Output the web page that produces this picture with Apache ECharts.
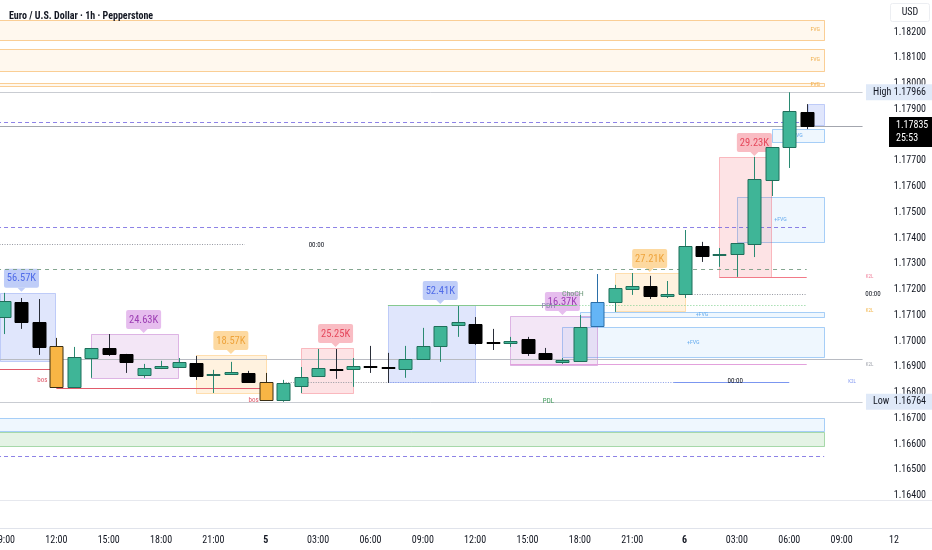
<!DOCTYPE html>
<html><head><meta charset="utf-8">
<script src="https://cdn.jsdelivr.net/npm/echarts@6/dist/echarts.min.js"></script>
<style>html,body{margin:0;padding:0;background:#fff}#c{width:932px;height:550px}</style>
</head><body><div id="c"></div>
<script>
// ---- data (hourly candles, EURUSD 1h, from 4th 09:00) ----
const opens  = [1.17093,1.17152,1.17074,1.16981,1.16822,1.16934,1.16973,1.16950,1.16868,1.16895,1.16899,1.16915,1.16868,1.16872,1.16876,1.16841,1.16772,1.16825,1.16864,1.16893,1.16891,1.16903,1.16898,1.16891,1.16930,1.16981,1.17062,1.17066,1.16996,1.16992,1.17008,1.16954,1.16919,1.16923,1.17058,1.17152,1.17202,1.17214,1.17175,1.17183,1.17369,1.17334,1.17338,1.17377,1.17625,1.17753,1.17889];
const highs  = [1.17187,1.17167,1.17163,1.17012,1.16977,1.16973,1.17027,1.16950,1.16911,1.16923,1.16934,1.16942,1.16888,1.16919,1.16884,1.16876,1.16849,1.16899,1.16969,1.16969,1.16934,1.16981,1.16954,1.16981,1.17051,1.17058,1.17136,1.17093,1.17047,1.17016,1.17016,1.16973,1.16934,1.17101,1.17260,1.17218,1.17264,1.17253,1.17233,1.17431,1.17385,1.17361,1.17381,1.17715,1.17753,1.17966,1.17920];
const lows   = [1.17027,1.17047,1.16946,1.16818,1.16818,1.16857,1.16942,1.16876,1.16857,1.16891,1.16899,1.16849,1.16798,1.16868,1.16841,1.16768,1.16764,1.16798,1.16864,1.16853,1.16822,1.16876,1.16837,1.16857,1.16930,1.16919,1.17016,1.16985,1.16965,1.16977,1.16942,1.16930,1.16911,1.16923,1.17058,1.17113,1.17179,1.17163,1.17167,1.17167,1.17307,1.17288,1.17249,1.17326,1.17563,1.17672,1.17823];
const closes = [1.17155,1.17074,1.16977,1.16822,1.16938,1.16973,1.16950,1.16919,1.16895,1.16903,1.16919,1.16864,1.16872,1.16880,1.16841,1.16772,1.16837,1.16860,1.16895,1.16890,1.16903,1.16899,1.16894,1.16930,1.16981,1.17058,1.17074,1.16992,1.16992,1.17000,1.16954,1.16930,1.16926,1.17055,1.17152,1.17206,1.17214,1.17175,1.17183,1.17369,1.17330,1.17338,1.17381,1.17629,1.17753,1.17893,1.17835];
const bosCandles = [3, 15];
const chochCandles = [34];

const tickIdx    = [0,3,6,9,12,15,18,21,24,27,30,33,36,39,42,45,48,51];
const tickLabels = ['09:00','12:00','15:00','18:00','21:00','5','03:00','06:00','09:00','12:00','15:00','18:00','21:00','6','03:00','06:00','09:00','12'];
const dayLabels  = ['5','6'];
const priceTicks = [1.164,1.165,1.166,1.167,1.168,1.169,1.170,1.171,1.172,1.173,1.174,1.175,1.176,1.177,1.178,1.179,1.180,1.181,1.182];

const lastPrice = 1.17835, countdown = '25:53', sessionHigh = 1.17966, sessionLow = 1.16764;

// session volume boxes: [fromIdx, toIdx, low, high, labelIdx, volume]
const sessions = [
  [-0.4, 2.92, 1.16922, 1.17187, 1, '56.57K'],
  [5, 10, 1.16856, 1.17027, 8, '24.63K'],
  [11, 15, 1.16798, 1.16946, 13, '18.57K'],
  [17, 20, 1.16798, 1.16973, 19, '25.25K'],
  [22, 27, 1.16841, 1.17140, 25, '52.41K'],
  [29, 34, 1.16907, 1.17097, 32, '16.37K'],
  [35, 39, 1.17117, 1.17264, 37, '27.21K'],
  [41, 44, 1.17249, 1.17715, 43, '29.23K'],
  [46.07, 47, 1.17839, 1.17920, null, '']
];
// fair value gaps: [fromIdx, toIdx, low, high, label, kind]
const fvgs = [
  [-0.4, 47, 1.18169, 1.18247, 'FVG', 'bear'],
  [-0.4, 47, 1.18049, 1.18134, 'FVG', 'bear'],
  [-0.4, 47, 1.17990, 1.18002, 'FVG', 'bear'],
  [44, 47, 1.17773, 1.17823, 'FVG', 'bull'],
  [42, 47, 1.17385, 1.17559, '+FVG', 'bull'],
  [33, 47, 1.17093, 1.17113, '+FVG', 'bull'],
  [32, 47, 1.16938, 1.17054, '+FVG', 'bull'],
  [-0.4, 47, 1.16651, 1.16701, '', 'bull'],
  [-0.4, 47, 1.16592, 1.16647, '', 'green']
];
// horizontal levels: [fromIdx, toIdx, price, kind]
const levels = [
  [-0.4, 49.2, 1.17966, 'hl'],
  [-0.4, 45.6, 1.17851, 'dashPurple'],
  [-0.4, 49.2, 1.17835, 'last'],
  [-0.4, 46, 1.17443, 'dashPurple'],
  [-0.4, 13.8, 1.17377, 'dotGrey'],
  [-0.4, 46, 1.17280, 'dashGreen'],
  [41, 46, 1.17247, 'red'],
  [39, 46, 1.17183, 'dotGrey'],
  [22, 32.8, 1.17140, 'pdh'],
  [32.8, 46, 1.17140, 'dotGreen'],
  [-0.4, 49.2, 1.16930, 'mid'],
  [29, 46, 1.16911, 'pink'],
  [-0.4, 2.9, 1.16891, 'bos'],
  [3, 14.85, 1.16818, 'bos'],
  [16, 22, 1.16839, 'dotGrey'],
  [22, 38.4, 1.16839, 'dotBlue'],
  [38.4, 45, 1.16839, 'blue'],
  [-0.4, 49.2, 1.16764, 'hl'],
  [-0.4, 47, 1.16553, 'dashPurple'],
  [-0.4, 53.3, 1.16383, 'pane']
];
// text notes: [idx, price, text, kind]
const notes = [
  [17.9, 1.17373, '00:00', 'time'],
  [41.9, 1.16844, '00:00', 'time'],
  [49.8, 1.17183, '00:00', 'time'],
  [31.2, 1.17136, 'PDH', 'pdh'],
  [32.6, 1.17183, 'ChoCH', 'choch'],
  [31.2, 1.16767, 'PDL', 'pdl'],
  [2.2, 1.16849, 'bos', 'bos'],
  [14.3, 1.16771, 'bos', 'bos'],
  [49.6, 1.17249, 'K2L', 'tPink'],
  [49.6, 1.17116, 'K2L', 'tOrange'],
  [49.6, 1.16907, 'K2L', 'tGrey'],
  [48.6, 1.16840, 'K2L', 'tBlue']
];

// ---- styles ----
const F = "'Liberation Sans Narrow','Roboto Condensed',Roboto,'Liberation Sans',sans-serif";
const sessionColors = [
  {fill:'rgba(98,129,238,0.20)', edge:'rgba(98,129,238,0.35)', tag:'#bfcdf8', text:'#4f6be8'},
  {fill:'rgba(186,104,200,0.17)', edge:'rgba(186,104,200,0.45)', tag:'#e6bdee', text:'#9c3db3'},
  {fill:'rgba(255,183,77,0.18)', edge:'rgba(255,183,77,0.40)', tag:'#fdd9a0', text:'#eea33a'},
  {fill:'rgba(242,54,69,0.14)', edge:'rgba(242,54,69,0.30)', tag:'#f9bcc3', text:'#e5485c'}
];
const fvgStyles = {
  bear:{fill:'rgba(255,167,38,0.08)', edge:'rgba(245,170,70,0.55)', text:'#f0b050', align:'right'},
  bull:{fill:'rgba(100,181,246,0.10)', edge:'rgba(100,170,240,0.55)', text:'#6aaeee', align:'center'},
  green:{fill:'rgba(76,175,80,0.15)', edge:'rgba(76,175,80,0.45)', text:'#4caf50', align:'center'}
};
const levelStyles = {
  hl:{stroke:'#c9ccd2', dash:null},
  last:{stroke:'#a3a6ae', dash:null},
  mid:{stroke:'#b8bbc2', dash:null},
  pane:{stroke:'#e6e8ee', dash:null},
  dashPurple:{stroke:'rgba(103,88,222,0.75)', dash:[4,3]},
  dashGreen:{stroke:'rgba(110,150,125,0.85)', dash:[4,4]},
  dotGrey:{stroke:'#9598a1', dash:[1,1.5]},
  dotGreen:{stroke:'#7fd08f', dash:[1,2]},
  dotBlue:{stroke:'#8a9ee8', dash:[1,1.5]},
  blue:{stroke:'#7b96f0', dash:null},
  red:{stroke:'#f27a88', dash:null},
  pdh:{stroke:'#86c98f', dash:null},
  pink:{stroke:'#e3a1dc', dash:null},
  bos:{stroke:'#e15b6b', dash:null}
};
const noteStyles = {
  time:{fill:'#131722', size:7}, pdh:{fill:'#8a7fb0', size:8}, choch:{fill:'#6f9a7c', size:8},
  pdl:{fill:'#3f9a5a', size:7}, bos:{fill:'#e0596a', size:7},
  tPink:{fill:'#f07f9a', size:5}, tOrange:{fill:'#f2b54a', size:5}, tGrey:{fill:'#a0a4ad', size:5}, tBlue:{fill:'#7f95f0', size:5}
};
const candleColors = {
  up:{fill:'#3fb597', stroke:'#1f6e5a', wick:'#2a8a72'},
  down:{fill:'#000000', stroke:'#000000', wick:'#2a2e39'},
  bos:{fill:'#f8b545', stroke:'#3a2e14', wick:'#3a2e14'},
  choch:{fill:'#64b5f6', stroke:'#2b6fa8', wick:'#2b6fa8'}
};

const yMax = 1.182 + 32/25750, yMin = 1.182 - 496/25750;

const chart = echarts.init(document.getElementById('c'), null, {renderer:'canvas'});
const crisp = v => Math.round(v) + 0.5;

chart.setOption({
  animation:false,
  backgroundColor:'#ffffff',
  title:{text:'Euro / U.S. Dollar · 1h · Pepperstone', left:4, top:6,
    textStyle:{fontFamily:F, fontSize:10, fontWeight:'bold', color:'#131722'}},
  grid:{left:0, right:0, top:0, bottom:22, containLabel:false, outerBoundsMode:'none'},
  xAxis:{type:'value', min:-0.23, max:53.18,
    axisLine:{show:true, lineStyle:{color:'#e0e3eb'}}, axisTick:{show:false}, splitLine:{show:false},
    axisLabel:{customValues:tickIdx, margin:7, color:'#131722', fontFamily:F, fontSize:10,
      formatter:v=>{const k=tickIdx.indexOf(Math.round(v)); const t=k<0?'':tickLabels[k]; return dayLabels.includes(t)?'{d|'+t+'}':t;},
      rich:{d:{fontWeight:'bold', fontFamily:F, fontSize:10, color:'#131722'}}}},
  yAxis:{type:'value', position:'right', min:yMin, max:yMax,
    axisLine:{show:false}, axisTick:{show:false}, splitLine:{show:false},
    axisLabel:{inside:true, customValues:priceTicks, margin:6, color:'#131722', fontFamily:F, fontSize:10,
      formatter:v=>v.toFixed(5)}},
  series:[
    { // fvg zones
      type:'custom', z:1, clip:true, data:fvgs.map(f=>[f[0],f[2]]),
      renderItem:(params, api)=>{
        const f=fvgs[params.dataIndex], s=fvgStyles[f[5]];
        const a=api.coord([f[0],f[3]]), b=api.coord([f[1],f[2]]);
        const ch=[{type:'rect', shape:{x:Math.round(a[0])+0.5,y:Math.round(a[1])+0.5,width:Math.round(b[0]-a[0]),height:Math.max(2,Math.round(b[1]-a[1]))},
          style:{fill:s.fill, stroke:s.edge, lineWidth:1}}];
        if (f[4]) {
          const x = s.align==='right' ? b[0]-4 : (a[0]+b[0])/2;
          ch.push({type:'text', style:{text:f[4], x:x, y:(a[1]+b[1])/2, align:s.align, verticalAlign:'middle', fill:s.text, font:'6px '+F}});
        }
        return {type:'group', children:ch};
      }},
    { // session volume boxes
      type:'custom', z:2, clip:false, data:sessions.map(s=>[s[0],s[2]]),
      renderItem:(params, api)=>{
        const z=sessions[params.dataIndex], c=sessionColors[params.dataIndex%4];
        const a=api.coord([Math.max(z[0],-0.25),z[3]]), b=api.coord([z[1],z[2]]);
        const ch=[{type:'rect', shape:{x:Math.round(a[0])+0.5,y:Math.round(a[1])+0.5,width:Math.round(b[0]-a[0]),height:Math.round(b[1]-a[1])},
          style:{fill:c.fill, stroke:c.edge, lineWidth:1}}];
        if (z[4]!==null) {
          const p=api.coord([z[4],z[3]]);
          const bw=35, bh=19, bx=p[0]-bw/2, by=p[1]-5-bh;
          ch.push({type:'rect', shape:{x:bx,y:by,width:bw,height:bh,r:2}, style:{fill:c.tag}});
          ch.push({type:'polygon', shape:{points:[[p[0]-4,by+bh],[p[0]+4,by+bh],[p[0],p[1]-1]]}, style:{fill:c.tag}});
          ch.push({type:'text', style:{text:z[5], x:p[0], y:by+bh/2+0.5, align:'center', verticalAlign:'middle', fill:c.text, font:'10.5px '+F}});
        }
        return {type:'group', children:ch};
      }},
    { // levels
      type:'custom', z:3, clip:false, data:levels.map(l=>[l[0],l[2]]),
      renderItem:(params, api)=>{
        const l=levels[params.dataIndex], s=levelStyles[l[3]];
        const a=api.coord([l[0],l[2]]), b=api.coord([l[1],l[2]]);
        const y=crisp(a[1]);
        return {type:'line', shape:{x1:a[0],y1:y,x2:b[0],y2:y}, style:{stroke:s.stroke, lineWidth:1, lineDash:s.dash||null}};
      }},
    { // candles
      type:'custom', z:5, clip:true, data:opens.map((o,i)=>[i,o,highs[i],lows[i],closes[i]]),
      renderItem:(params, api)=>{
        const i=api.value(0), o=api.value(1), h=api.value(2), l=api.value(3), c=api.value(4);
        const k = bosCandles.includes(i)?'bos':(chochCandles.includes(i)?'choch':(c>=o?'up':'down'));
        const col=candleColors[k];
        const pO=api.coord([i,o]), pC=api.coord([i,c]), pH=api.coord([i,h]), pL=api.coord([i,l]);
        const w=Math.round(api.size([1,0])[0]*0.72);
        const xc=Math.round(pO[0])+0.5;
        const top=Math.round(Math.min(pO[1],pC[1])), bot=Math.round(Math.max(pO[1],pC[1]));
        return {type:'group', children:[
          {type:'line', shape:{x1:xc,y1:pH[1],x2:xc,y2:pL[1]}, style:{stroke:col.wick, lineWidth:1}},
          {type:'rect', shape:{x:xc-w/2,y:top+0.5,width:w,height:Math.max(1,bot-top)}, style:{fill:col.fill, stroke:col.stroke, lineWidth:1}}
        ]};
      }},
    { // notes
      type:'custom', z:6, clip:false, data:notes.map(n=>[n[0],n[1]]),
      renderItem:(params, api)=>{
        const n=notes[params.dataIndex], s=noteStyles[n[3]];
        const p=api.coord([n[0],n[1]]);
        return {type:'text', style:{text:n[2], x:p[0], y:p[1], align:'center', verticalAlign:'middle', fill:s.fill, font:s.size+'px '+F}};
      }},
    { // price scale tags
      type:'custom', z:8, clip:false, data:[[0,sessionHigh],[0,lastPrice],[0,sessionLow]],
      renderItem:(params, api)=>{
        const i=params.dataIndex, v=api.value(1), y=api.coord([0,v])[1];
        if (i===1) {
          return {type:'group', children:[
            {type:'rect', shape:{x:889,y:y-9,width:43,height:30}, style:{fill:'#000000'}},
            {type:'text', style:{text:v.toFixed(5), x:896, y:y, align:'left', verticalAlign:'middle', fill:'#ffffff', font:'10px '+F}},
            {type:'text', style:{text:countdown, x:896, y:y+13, align:'left', verticalAlign:'middle', fill:'#ffffff', font:'10px '+F}}
          ]};
        }
        return {type:'group', children:[
          {type:'rect', shape:{x:866,y:y-8,width:66,height:16}, style:{fill:'#dfe9f8'}},
          {type:'text', style:{text:i===0?'High':'Low', x:873, y:y, align:'left', verticalAlign:'middle', fill:'#131722', font:'10px '+F}},
          {type:'text', style:{text:v.toFixed(5), x:926, y:y, align:'right', verticalAlign:'middle', fill:'#131722', font:'10px '+F}}
        ]};
      }}
  ],
  graphic:[
    {type:'rect', shape:{x:890.5,y:3.5,width:39,height:18,r:2}, style:{fill:'#ffffff', stroke:'#eceef2', lineWidth:1}, z:10},
    {type:'text', style:{text:'USD', x:910, y:12.5, align:'center', verticalAlign:'middle', fill:'#131722', font:'10px '+F}, z:11}
  ]
});
</script></body></html>
